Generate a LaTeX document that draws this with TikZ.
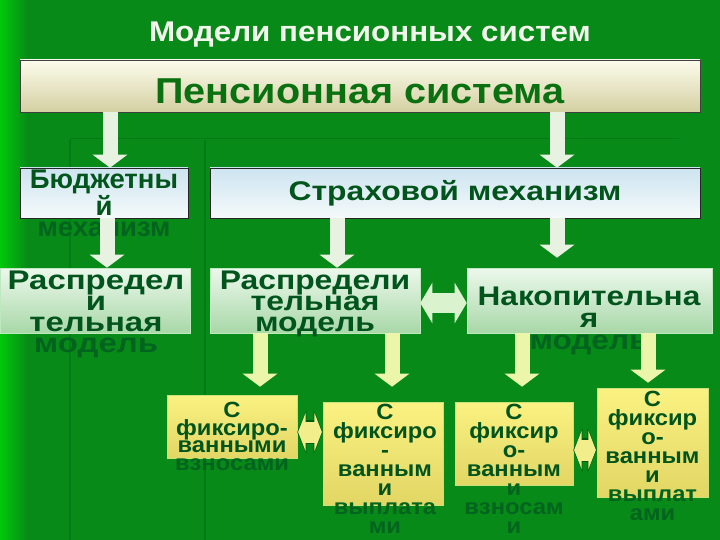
\documentclass[tikz,border=0pt]{standalone}
\usepackage{fontspec}
\setmainfont{Liberation Sans}
\usetikzlibrary{arrows.meta,calc}
\definecolor{bg}{RGB}{8,138,24}
\definecolor{bgstrip}{RGB}{0,200,10}
\definecolor{bgline}{RGB}{0,124,20}
\definecolor{txt}{RGB}{0,84,28}
\definecolor{ovf}{RGB}{0,100,30}
\definecolor{toptxt}{RGB}{10,112,16}
\definecolor{titletxt}{RGB}{242,246,236}
\definecolor{creamA}{RGB}{252,252,236}
\definecolor{creamB}{RGB}{212,208,162}
\definecolor{blueA}{RGB}{205,228,240}
\definecolor{blueB}{RGB}{245,250,250}
\definecolor{grnA}{RGB}{236,248,236}
\definecolor{grnB}{RGB}{168,216,168}
\definecolor{grnE}{RGB}{190,232,190}
\definecolor{yelA}{RGB}{250,242,130}
\definecolor{yelB}{RGB}{226,214,100}
\definecolor{yelE}{RGB}{200,225,120}
\definecolor{arrW}{RGB}{232,242,224}
\definecolor{arrY}{RGB}{236,246,170}
\definecolor{arrG}{RGB}{218,242,206}
\definecolor{arrYY}{RGB}{242,238,140}
\definecolor{arrOut}{RGB}{0,90,20}
\newcommand\ff[3]{\fontspec{Liberation Sans}[FakeStretch=#1]\bfseries\fontsize{#2}{#3}\selectfont}
\newcommand\ov[1]{\textcolor{ovf}{#1}}
\tikzset{
  boxbase/.style={rectangle, inner sep=0pt, line width=0.6pt},
  creambox/.style={boxbase, draw=black!75, top color=creamA, bottom color=creamB},
  bluebox/.style={boxbase, draw=black!85, top color=blueA, bottom color=blueB},
  greenbox/.style={boxbase, draw=grnE, top color=grnA, bottom color=grnB},
  yellowbox/.style={boxbase, draw=yelE, top color=yelA, bottom color=yelB},
  label/.style={inner sep=0pt, align=center, text=txt},
  blockarrow/.style={line width=15pt, -{Triangle[width=34pt,length=13pt]}},
  dblarrow/.style={line width=20pt, {Triangle[width=40pt,length=12pt]}-{Triangle[width=40pt,length=12pt]}},
  smalldblout/.style={line width=24pt, arrOut, {Triangle[width=43pt,length=9pt]}-{Triangle[width=43pt,length=9pt]}},
  smalldbl/.style={line width=21pt, arrYY, {Triangle[width=38pt,length=7.5pt]}-{Triangle[width=38pt,length=7.5pt]}, shorten <=0.8pt, shorten >=0.8pt}
}
\begin{document}
\begin{tikzpicture}[x=1pt,y=-1pt]
\useasboundingbox (0,0) rectangle (720,540);
% background
\fill[bg] (0,0) rectangle (720,540);
\shade[left color=bgstrip, right color=bg] (0,0) rectangle (28,540);
\draw[bgline, line width=1.5pt] (70,140) -- (70,540);
\draw[bgline, line width=1.2pt] (205,140) -- (205,540);
\draw[bgline, line width=1pt] (70,139) -- (680,139);

% title
\node[inner sep=0pt, text=titletxt, font=\ff{1.1}{28.5}{32}] (title) at (370,35) {Модели пенсионных систем};

% boxes
\node[creambox, minimum width=680pt, minimum height=52pt] (top) at (360,86) {};
\node[inner sep=0pt, text=toptxt, font=\ff{1.1}{36}{40}] (topT) at (360,91) {Пенсионная система};

\node[bluebox, minimum width=168pt, minimum height=50pt] (bud) at (104,193) {};
\node[bluebox, minimum width=490pt, minimum height=50pt] (str) at (455,193) {};

\node[greenbox, minimum width=190pt, minimum height=65pt] (rasp1) at (95,300.5) {};
\node[greenbox, minimum width=210pt, minimum height=65pt] (rasp2) at (315,300.5) {};
\node[greenbox, minimum width=245pt, minimum height=65pt] (nak) at (589.5,300.5) {};

\node[yellowbox, minimum width=130pt, minimum height=63pt] (b1) at (232,426.5) {};
\node[yellowbox, minimum width=120pt, minimum height=103pt] (b2) at (383,453.5) {};
\node[yellowbox, minimum width=118pt, minimum height=83pt] (b3) at (514,443.5) {};
\node[yellowbox, minimum width=111pt, minimum height=109pt] (b4) at (652.5,442.5) {};

% texts
\node[label, anchor=north, font=\ff{1.02}{27}{21}] (budT) at (104,170) {Бюджетны\\й\\\ov{механизм}};
\node[label, font=\ff{1.18}{27}{21}] (strT) at (455,193) {Страховой механизм};
\node[label, anchor=north, font=\ff{1.22}{27}{21}] (rasp1T) at (96,271) {Распредел\\и\\тельная\\\ov{модель}};
\node[label, anchor=north, font=\ff{1.18}{27}{21}] (rasp2T) at (315,271) {Распредели\\тельная\\модель};
\node[label, anchor=north, font=\ff{1.17}{27}{22}] (nakT) at (589,287) {Накопительна\\я\\\ov{модель}};

\node[label, anchor=north, font=\ff{1.08}{22}{17.5}] (b1T) at (232,402) {С\\фиксиро-\\ванными\\\ov{взносами}};
\node[label, anchor=north, font=\ff{1.08}{22}{19}] (b2T) at (385,404) {С\\фиксиро\\-\\ванным\\и\\\ov{выплата}\\\ov{ми}};
\node[label, anchor=north, font=\ff{1.08}{22}{19}] (b3T) at (514,404) {С\\фиксир\\о-\\ванным\\\ov{и}\\\ov{взносам}\\\ov{и}};
\node[label, anchor=north, font=\ff{1.08}{22}{19}] (b4T) at (652.5,391) {С\\фиксир\\о-\\ванным\\и\\\ov{выплат}\\\ov{ами}};

% arrows
\draw[blockarrow, arrW] ($(top.south)+(-250,0)$) coordinate (a1) -- (a1 |- bud.north);
\draw[blockarrow, arrW] ($(top.south)+(197,0)$) coordinate (a2) -- (a2 |- str.north);
\draw[blockarrow, arrW] ($(bud.south)+(3,0)$) coordinate (a3) -- (a3 |- rasp1.north);
\draw[blockarrow, arrW] ($(str.south)+(-118,0)$) coordinate (a4) -- (a4 |- rasp2.north);
\draw[blockarrow, arrW, shorten >=10pt] ($(str.south)+(102,0)$) coordinate (a5) -- (a5 |- nak.north);

\draw[blockarrow, arrY, shorten >=8pt] ($(rasp2.south)+(-55,0)$) coordinate (a6) -- (a6 |- b1.north);
\draw[blockarrow, arrY, shorten >=15pt] ($(rasp2.south)+(77,0)$) coordinate (a7) -- (a7 |- b2.north);
\draw[blockarrow, arrY, shorten >=15pt] ($(nak.south)+(-67.5,0)$) coordinate (a8) -- (a8 |- b3.north);
\draw[blockarrow, arrY, shorten >=5pt] ($(nak.south)+(58.5,0)$) coordinate (a9) -- (a9 |- b4.north);

\draw[dblarrow, arrG] ($(rasp2.east)+(0,2.5)$) coordinate (d0) -- (d0 -| nak.west);
\draw[smalldblout] ($(b1.east)+(0,5.5)$) coordinate (d1) -- (d1 -| b2.west);
\draw[smalldbl] (d1) -- (d1 -| b2.west);
\draw[smalldblout] ($(b3.east)+(0,6.5)$) coordinate (d2) -- (d2 -| b4.west);
\draw[smalldbl] (d2) -- (d2 -| b4.west);
\end{tikzpicture}
\end{document}
